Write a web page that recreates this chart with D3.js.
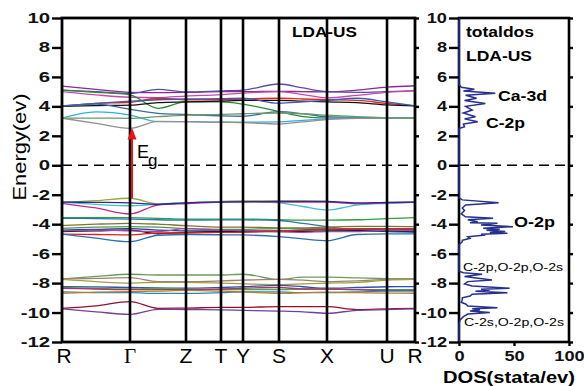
<!DOCTYPE html>
<html><head><meta charset="utf-8">
<script src="https://cdn.jsdelivr.net/npm/d3@7"></script>
<style>
html,body{margin:0;padding:0;background:#fff;}
svg{display:block;font-family:"Liberation Sans",Arial,sans-serif;}
</style></head>
<body><svg id="c" width="584" height="386"></svg>
<script>
// ---------- data ----------
const kLabels = ["R","Γ","Z","T","Y","S","X","U","R"];
const kLabelPos = [0,0.68,1.24,1.59,1.81,2.17,2.65,3.25,3.53];
const kSample = [0,0.34,0.68,0.96,1.24,1.59,1.81,2.17,2.41,2.65,2.95,3.25,3.53];
const energyTicks = [-12,-10,-8,-6,-4,-2,0,2,4,6,8,10];
const dosTicks = [0,50,100];

// conduction bands (eV at kSample)
const conductionBands = [
  [5.38,5.15,4.95,4.93,4.95,5.0,5.0,5.02,5.0,4.98,5.1,5.3,5.4],
  [5.1,5.0,4.88,5.16,4.98,5.05,5.1,5.52,5.25,5.0,4.95,5.0,5.07],
  [5.0,4.78,4.62,4.6,4.7,4.8,4.9,5.0,4.8,4.58,4.75,4.95,5.05],
  [5.1,4.95,4.78,3.87,4.3,4.3,4.15,3.64,3.3,3.2,3.19,3.2,3.2],
  [4.0,4.2,4.28,4.55,4.45,4.45,4.5,4.55,4.5,4.45,4.4,4.2,4.03],
  [4.0,4.05,4.08,4.25,4.3,4.35,4.4,4.4,4.35,4.3,4.25,4.1,4.03],
  [4.03,4.2,4.35,4.45,4.5,4.52,4.55,4.21,4.3,4.4,4.55,4.3,4.03],
  [4.03,4.15,3.8,3.53,3.45,3.35,3.33,3.64,3.5,3.3,3.25,3.2,3.2],
  [3.2,3.62,3.41,2.96,2.96,2.92,2.93,2.95,3.05,3.15,3.2,3.2,3.2],
  [3.2,2.85,2.51,2.98,2.96,2.92,2.9,2.8,2.95,3.1,3.18,3.2,3.2],
  [3.2,3.2,3.19,3.3,3.4,3.45,3.5,3.55,3.5,3.4,3.3,3.22,3.2]
];
const conductionColors = ["#8a2a90","#5b4aa8","#c84aa8","#2a8a3a","#e8241c","#111111","#4058b0","#3a6aa0","#30b0d8","#909090","#6a9a6a"];

// valence bands
const valenceBands = [
  [-2.51,-2.4,-2.24,-2.62,-2.55,-2.45,-2.42,-2.42,-2.42,-2.45,-2.62,-2.55,-2.5],
  [-2.51,-2.65,-2.75,-2.65,-2.55,-2.47,-2.45,-2.55,-2.8,-3.03,-2.7,-2.58,-2.5],
  [-2.58,-2.9,-3.3,-2.7,-2.6,-2.5,-2.48,-2.5,-2.5,-2.5,-2.6,-2.55,-2.52],
  [-2.5,-2.52,-2.55,-2.65,-2.55,-2.5,-2.48,-2.45,-2.45,-2.45,-2.55,-2.52,-2.5],
  [-3.55,-3.55,-3.56,-3.6,-3.65,-3.65,-3.65,-3.7,-3.72,-3.72,-3.7,-3.62,-3.55],
  [-3.6,-3.62,-3.65,-3.7,-3.72,-3.71,-3.71,-3.75,-3.95,-4.17,-4.4,-4.5,-4.55],
  [-4.1,-4.0,-3.94,-4.0,-4.1,-4.2,-4.2,-4.25,-4.25,-4.2,-4.15,-4.15,-4.17],
  [-4.28,-4.2,-4.16,-4.2,-4.3,-4.35,-4.35,-4.3,-4.3,-4.3,-4.35,-4.35,-4.35],
  [-4.4,-4.35,-4.3,-4.4,-4.45,-4.45,-4.45,-4.45,-4.4,-4.35,-4.4,-4.4,-4.4],
  [-4.5,-4.45,-4.4,-4.65,-4.55,-4.5,-4.5,-4.5,-4.5,-4.45,-4.45,-4.45,-4.5],
  [-4.45,-4.4,-4.45,-4.5,-4.3,-4.4,-4.45,-4.5,-4.55,-4.5,-4.5,-4.4,-4.45],
  [-4.68,-4.7,-4.73,-4.6,-4.6,-4.55,-4.55,-4.45,-4.4,-4.35,-4.3,-4.3,-4.3],
  [-4.68,-4.95,-5.19,-4.75,-4.7,-4.72,-4.73,-4.85,-5.0,-5.12,-4.7,-4.66,-4.66]
];
const valenceColors = ["#9aa838","#40c0d0","#c02890","#2a2a90","#2aa040","#2878b0","#8a7030","#40a050","#303090","#111111","#a048b0","#e02020","#2a70b0"];

// semicore bands
const coreBands = [
  [-7.72,-7.55,-7.4,-7.45,-7.45,-7.45,-7.4,-7.75,-7.6,-7.6,-7.65,-7.7,-7.72],
  [-7.72,-7.68,-7.63,-7.9,-7.9,-7.85,-7.8,-7.75,-7.8,-7.9,-7.85,-7.75,-7.72],
  [-7.75,-7.9,-8.0,-7.95,-7.95,-8.0,-8.05,-8.1,-8.05,-8.0,-7.95,-7.8,-7.75],
  [-8.24,-8.26,-8.3,-8.33,-8.35,-8.3,-8.25,-8.15,-8.25,-8.35,-8.3,-8.25,-8.24],
  [-8.3,-8.35,-8.4,-8.35,-8.4,-8.45,-8.45,-8.45,-8.4,-8.4,-8.45,-8.45,-8.45],
  [-8.35,-8.4,-8.45,-8.45,-8.45,-8.4,-8.35,-8.3,-8.4,-8.4,-8.45,-8.5,-8.5],
  [-8.6,-8.65,-8.65,-8.7,-8.7,-8.65,-8.6,-8.6,-8.65,-8.65,-8.6,-8.55,-8.55],
  [-8.69,-8.62,-8.58,-8.55,-8.5,-8.55,-8.6,-8.7,-8.65,-8.62,-8.65,-8.68,-8.69],
  [-9.71,-9.55,-9.26,-9.71,-9.7,-9.65,-9.65,-9.6,-9.6,-9.6,-9.8,-9.75,-9.71],
  [-9.75,-9.95,-10.12,-9.78,-9.8,-9.82,-9.85,-9.9,-9.95,-10.05,-9.85,-9.8,-9.75]
];
const coreColors = ["#6a9a60","#a08070","#a0a040","#3050b0","#40b040","#b03070","#2a8ab0","#b08030","#901030","#7040a0"];

// total DOS
const dosEnergy = [10,5.5,5.3,5.16,5.05,4.89,4.75,4.55,4.4,4.2,4.0,3.75,3.55,3.3,3.15,2.96,2.8,2.62,2.5,
  -2.2,-2.35,-2.54,-2.7,-2.9,-3.07,-3.3,-3.5,-3.6,-3.7,-3.83,-3.9,-3.94,-4.05,-4.17,-4.27,-4.35,-4.42,-4.5,-4.56,-4.62,-4.68,-4.73,-4.85,-4.96,-5.1,-5.19,-5.4,
  -7.2,-7.3,-7.4,-7.55,-7.79,-7.9,-8.06,-8.2,-8.35,-8.42,-8.47,-8.55,-8.65,-8.75,-8.88,-9.0,-9.15,-9.3,-9.42,-9.55,-9.67,-9.75,-9.82,-9.9,-10.0,-10.1,-10.28,-10.5,-10.8,-12];
const dosValue = [0,0,2,14,4,33,6,16,5,24,6,12,4,15,5,17,4,5,0,
  0,3,36,6,3,5,2,6,31,8,17,10,35,20,49,22,37,25,42,28,44,20,24,8,10,3,3,0,
  0,4,21,5,30,8,5,12,46,20,28,15,44,12,10,3,3,2,6,8,35,12,19,10,28,8,4,1,0,0];

// ---------- drawing ----------
const svg = d3.select("#c");
const yE = d3.scaleLinear().domain([-12,10]).range([342,18]);
const xK = d3.scaleLinear().domain([0,3.53]).range([62,415]);
const xD = d3.scaleLinear().domain([0,100]).range([459,569]);

function stretch(sel, f){
  sel.each(function(){
    const l = this.getComputedTextLength();
    this.setAttribute("textLength", l*f);
    this.setAttribute("lengthAdjust","spacingAndGlyphs");
  });
}

const bandLine = d3.line().x((d,i)=>xK(kSample[i])).y(d=>yE(d)).curve(d3.curveMonotoneX);
const gB = svg.append("g");
function drawBands(bands, colors){
  bands.forEach((b,i)=>{
    gB.append("path").attr("d", bandLine(b)).attr("fill","none")
      .attr("stroke", colors[i]).attr("stroke-width",1.3);
  });
}
drawBands(coreBands, coreColors);
drawBands(valenceBands, valenceColors);
drawBands(conductionBands, conductionColors);

// vertical k lines
svg.append("g").selectAll("line").data(kLabelPos.slice(1,-1)).join("line")
  .attr("x1",d=>xK(d)).attr("x2",d=>xK(d)).attr("y1",yE(10)).attr("y2",yE(-12))
  .attr("stroke","#000").attr("stroke-width",2.6);

// zero dashed line
[[xK(0),xK(3.53)],[xD(0),xD(100)]].forEach(r=>{
  svg.append("line").attr("x1",r[0]).attr("x2",r[1]).attr("y1",yE(0)).attr("y2",yE(0))
    .attr("stroke","#000").attr("stroke-width",1.6).attr("stroke-dasharray","10,6");
});

// band gap arrow
const xArrow = xK(0.70);
svg.append("line").attr("x1",xArrow).attr("x2",xArrow).attr("y1",yE(-2.24)).attr("y2",yE(2.0))
  .attr("stroke","#ee1111").attr("stroke-width",2);
svg.append("path").attr("d",`M${xArrow},${yE(2.55)} L${xArrow-4.5},${yE(1.75)} L${xArrow+4.5},${yE(1.75)} Z`)
  .attr("fill","#ee1111");
svg.append("text").attr("x",137).attr("y",158).attr("font-size",18).text("E");
svg.append("text").attr("x",148).attr("y",166).attr("font-size",17).text("g");

// DOS curve
svg.append("rect").attr("x",xD(0)).attr("y",yE(10)).attr("width",xD(100)-xD(0)).attr("height",yE(-12)-yE(10))
  .attr("fill","none").attr("stroke","#000").attr("stroke-width",2.6);
const dosLine = d3.line().x((d,i)=>xD(dosValue[i])).y(d=>yE(d));
svg.append("path").attr("d",dosLine(dosEnergy)).attr("fill","none").attr("stroke","#25308f").attr("stroke-width",1.5);

// left frame
svg.append("rect").attr("x",xK(0)).attr("y",yE(10)).attr("width",xK(3.53)-xK(0)).attr("height",yE(-12)-yE(10))
  .attr("fill","none").attr("stroke","#000").attr("stroke-width",2.8);

// axes
const fmt = d=>String(d);
const axL = svg.append("g").attr("transform",`translate(${xK(0)},0)`)
  .call(d3.axisLeft(yE).tickValues(energyTicks).tickSize(10).tickPadding(2).tickFormat(fmt));
const axL2 = svg.append("g").attr("transform",`translate(${xK(3.53)},0)`)
  .call(d3.axisRight(yE).tickValues(energyTicks).tickSize(4).tickFormat(""));
const axR = svg.append("g").attr("transform",`translate(${xD(0)},0)`)
  .call(d3.axisLeft(yE).tickValues(energyTicks).tickSize(10).tickPadding(2).tickFormat(fmt));
const axR2 = svg.append("g").attr("transform",`translate(${xD(100)},0)`)
  .call(d3.axisRight(yE).tickValues(energyTicks).tickSize(4).tickFormat(""));
const axB = svg.append("g").attr("transform",`translate(0,${yE(-12)})`)
  .call(d3.axisBottom(xD).tickValues(dosTicks).tickSize(4).tickPadding(5).tickFormat(fmt));
[axL,axL2,axR,axR2,axB].forEach(a=>{
  a.select(".domain").remove();
  a.selectAll(".tick line").attr("stroke","#000").attr("stroke-width",2.4);
  a.selectAll("text").attr("font-family","Liberation Sans, Arial, sans-serif")
    .attr("font-size",14).attr("font-weight","bold").attr("fill","#111");
});
stretch(axL.selectAll("text"),1.45);
stretch(axR.selectAll("text"),1.3);
stretch(axB.selectAll("text"),1.3);

// k labels
svg.append("g").selectAll("text").data(kLabels).join("text")
  .attr("x",(d,i)=>xK(kLabelPos[i])+ (i===0?2:0)).attr("y",363)
  .attr("text-anchor","middle").attr("font-size",21)
  .attr("font-family",d=>d==="Γ"?"Liberation Serif, serif":"Liberation Sans, Arial, sans-serif")
  .text(d=>d);

// titles
svg.append("text").attr("transform","translate(26,147) rotate(-90)").attr("text-anchor","middle")
  .attr("font-size",18).attr("textLength",107).attr("lengthAdjust","spacingAndGlyphs").text("Energy(ev)");
svg.append("text").attr("x",509).attr("y",383).attr("text-anchor","middle").attr("font-size",17).attr("font-weight","bold")
  .attr("textLength",132).attr("lengthAdjust","spacingAndGlyphs").text("DOS(stata/ev)");
svg.append("text").attr("x",292).attr("y",37).attr("font-size",15).attr("font-weight","bold")
  .attr("textLength",65).attr("lengthAdjust","spacingAndGlyphs").text("LDA-US");
svg.append("text").attr("x",466).attr("y",37).attr("font-size",15).attr("font-weight","bold")
  .attr("textLength",68).attr("lengthAdjust","spacingAndGlyphs").text("totaldos");
svg.append("text").attr("x",466).attr("y",61).attr("font-size",15).attr("font-weight","bold")
  .attr("textLength",66).attr("lengthAdjust","spacingAndGlyphs").text("LDA-US");
svg.append("text").attr("x",498).attr("y",101).attr("font-size",14).attr("font-weight","bold")
  .attr("textLength",49).attr("lengthAdjust","spacingAndGlyphs").text("Ca-3d");
svg.append("text").attr("x",486).attr("y",128).attr("font-size",14).attr("font-weight","bold")
  .attr("textLength",39).attr("lengthAdjust","spacingAndGlyphs").text("C-2p");
svg.append("text").attr("x",514).attr("y",227).attr("font-size",14).attr("font-weight","bold")
  .attr("textLength",41).attr("lengthAdjust","spacingAndGlyphs").text("O-2p");
svg.append("text").attr("x",463).attr("y",271).attr("font-size",11)
  .attr("textLength",100).attr("lengthAdjust","spacingAndGlyphs").text("C-2p,O-2p,O-2s");
svg.append("text").attr("x",464).attr("y",326).attr("font-size",11)
  .attr("textLength",100).attr("lengthAdjust","spacingAndGlyphs").text("C-2s,O-2p,O-2s");
</script></body></html>
